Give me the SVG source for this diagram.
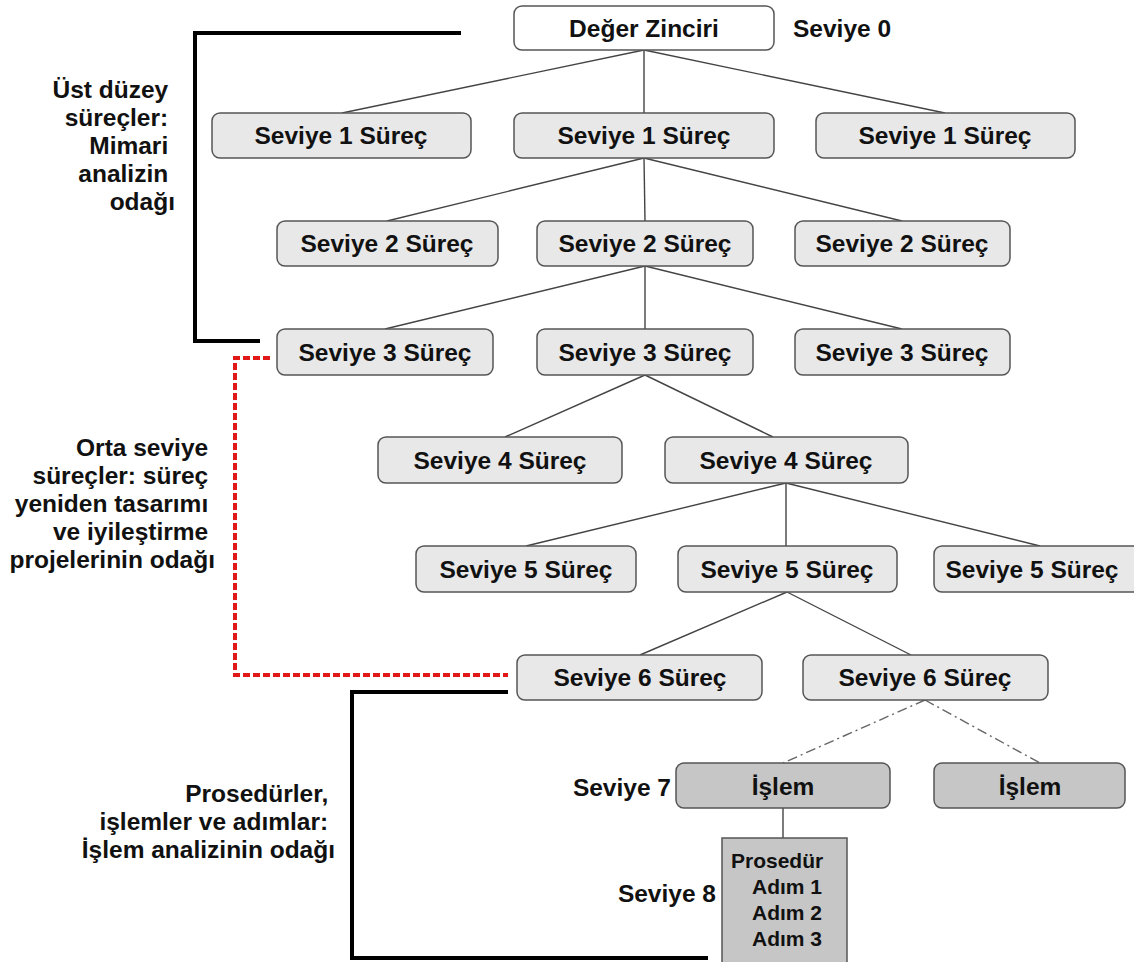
<svg xmlns="http://www.w3.org/2000/svg" width="1134" height="962" viewBox="0 0 1134 962">
<style>
text{font-family:"Liberation Sans",Arial,sans-serif;font-weight:bold;fill:#111;}
.t{font-size:24.5px;text-anchor:middle;}
.lbl{font-size:24.5px;}
.side{font-size:24.5px;text-anchor:end;}
.box{fill:#e8e8e8;stroke:#555;stroke-width:1.5;}
.dark{fill:#c6c6c6;stroke:#555;stroke-width:1.5;}
.con{stroke:#444;stroke-width:1.4;fill:none;}
.dd{stroke:#666;stroke-width:1.4;fill:none;stroke-dasharray:10 4 2 4;}
.br{stroke:#000;stroke-width:4;fill:none;}
.red{stroke:#e01818;stroke-width:4;fill:none;stroke-dasharray:7 3;}
</style>
<rect width="1134" height="962" fill="#fff"/>
<g id="connectors">
<line class="con" x1="644" y1="50" x2="342" y2="113"/>
<line class="con" x1="644" y1="50" x2="644" y2="113"/>
<line class="con" x1="644" y1="50" x2="945" y2="113"/>
<line class="con" x1="644" y1="158" x2="387" y2="221"/>
<line class="con" x1="644" y1="158" x2="645" y2="221"/>
<line class="con" x1="644" y1="158" x2="902" y2="221"/>
<line class="con" x1="645" y1="266" x2="385" y2="329"/>
<line class="con" x1="645" y1="266" x2="645" y2="329"/>
<line class="con" x1="645" y1="266" x2="902" y2="329"/>
<line class="con" x1="645" y1="375" x2="505" y2="437"/>
<line class="con" x1="645" y1="375" x2="773" y2="437"/>
<line class="con" x1="786" y1="483" x2="526" y2="546"/>
<line class="con" x1="786" y1="483" x2="786" y2="546"/>
<line class="con" x1="786" y1="483" x2="1040" y2="546"/>
<line class="con" x1="787" y1="592" x2="640" y2="655"/>
<line class="con" x1="787" y1="592" x2="911" y2="655"/>
<line class="dd" x1="925" y1="700" x2="783" y2="763"/>
<line class="dd" x1="925" y1="700" x2="1040" y2="763"/>
<line class="con" x1="783" y1="808" x2="783" y2="838"/>
</g>
<g id="brackets">
<polyline class="br" points="461,33 195,33 195,341 260,341"/>
<polyline class="red" points="270,358 235,358 235,675 508,675"/>
<polyline class="br" points="508,692 352,692 352,958 708,958"/>
</g>
<g id="n0"><rect x="514" y="6" width="260" height="44" rx="8" fill="#fff" stroke="#555" stroke-width="1.5"/><text class="t" x="644" y="37">Değer Zinciri</text></g>
<g id="lvl0"><text class="lbl" x="793" y="37">Seviye 0</text></g>
<g id="n1a"><rect class="box" x="212" y="113" width="259" height="45" rx="8"/><text class="t" x="341" y="144">Seviye 1 Süreç</text></g>
<g id="n1b"><rect class="box" x="514" y="113" width="260" height="45" rx="8"/><text class="t" x="644" y="144">Seviye 1 Süreç</text></g>
<g id="n1c"><rect class="box" x="816" y="113" width="259" height="45" rx="8"/><text class="t" x="945" y="144">Seviye 1 Süreç</text></g>
<g id="n2a"><rect class="box" x="277" y="221" width="221" height="45" rx="8"/><text class="t" x="387" y="252">Seviye 2 Süreç</text></g>
<g id="n2b"><rect class="box" x="537" y="221" width="216" height="45" rx="8"/><text class="t" x="645" y="252">Seviye 2 Süreç</text></g>
<g id="n2c"><rect class="box" x="795" y="221" width="215" height="45" rx="8"/><text class="t" x="902" y="252">Seviye 2 Süreç</text></g>
<g id="n3a"><rect class="box" x="277" y="329" width="216" height="46" rx="8"/><text class="t" x="385" y="361">Seviye 3 Süreç</text></g>
<g id="n3b"><rect class="box" x="537" y="329" width="216" height="46" rx="8"/><text class="t" x="645" y="361">Seviye 3 Süreç</text></g>
<g id="n3c"><rect class="box" x="795" y="329" width="215" height="46" rx="8"/><text class="t" x="902" y="361">Seviye 3 Süreç</text></g>
<g id="n4a"><rect class="box" x="378" y="437" width="244" height="46" rx="8"/><text class="t" x="500" y="469">Seviye 4 Süreç</text></g>
<g id="n4b"><rect class="box" x="665" y="437" width="243" height="46" rx="8"/><text class="t" x="786" y="469">Seviye 4 Süreç</text></g>
<g id="n5a"><rect class="box" x="416" y="546" width="220" height="46" rx="8"/><text class="t" x="526" y="578">Seviye 5 Süreç</text></g>
<g id="n5b"><rect class="box" x="678" y="546" width="219" height="46" rx="8"/><text class="t" x="787" y="578">Seviye 5 Süreç</text></g>
<g id="n5c"><rect class="box" x="934" y="546" width="210" height="46" rx="8"/><text class="t" x="1032" y="578">Seviye 5 Süreç</text></g>
<g id="n6a"><rect class="box" x="517" y="655" width="245" height="45" rx="8"/><text class="t" x="640" y="686">Seviye 6 Süreç</text></g>
<g id="n6b"><rect class="box" x="803" y="655" width="245" height="45" rx="8"/><text class="t" x="925" y="686">Seviye 6 Süreç</text></g>
<g id="n7a"><rect class="dark" x="676" y="763" width="214" height="45" rx="8"/><text class="t" x="783" y="795">İşlem</text></g>
<g id="n7b"><rect class="dark" x="934" y="763" width="191" height="45" rx="8"/><text class="t" x="1030" y="795">İşlem</text></g>
<g id="lvl7"><text class="lbl" x="671" y="796" text-anchor="end">Seviye 7</text></g>
<g id="n8"><rect class="dark" x="722" y="838" width="125" height="130"/>
<text style="font-size:21px" x="731" y="868">Prosedür</text>
<text style="font-size:21px" x="752" y="894">Adım 1</text>
<text style="font-size:21px" x="752" y="920">Adım 2</text>
<text style="font-size:21px" x="752" y="946">Adım 3</text></g>
<g id="lvl8"><text class="lbl" x="716" y="902" text-anchor="end">Seviye 8</text></g>
<g id="side1"><text class="side">
<tspan x="175" y="98">Üst düzey</tspan>
<tspan x="175" y="126">süreçler:</tspan>
<tspan x="175" y="154">Mimari</tspan>
<tspan x="175" y="182">analizin</tspan>
<tspan x="175" y="210">odağı</tspan></text></g>
<g id="side2"><text class="side">
<tspan x="215" y="456">Orta seviye</tspan>
<tspan x="215" y="484">süreçler: süreç</tspan>
<tspan x="215" y="512">yeniden tasarımı</tspan>
<tspan x="215" y="540">ve iyileştirme</tspan>
<tspan x="215" y="568">projelerinin odağı</tspan></text></g>
<g id="side3"><text class="side">
<tspan x="335" y="802">Prosedürler,</tspan>
<tspan x="335" y="830">işlemler ve adımlar:</tspan>
<tspan x="335" y="858">İşlem analizinin odağı</tspan></text></g>
</svg>
